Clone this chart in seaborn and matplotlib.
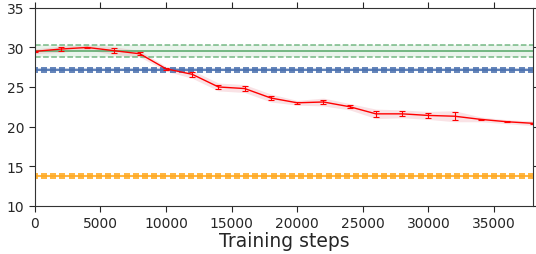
import numpy as np
import matplotlib
matplotlib.use("Agg")
import matplotlib.pyplot as plt
import seaborn as sns

# learned model, evaluated every 2000 steps
steps = [0, 2000, 4000, 6000, 8000, 10000, 12000, 14000, 16000, 18000,
         20000, 22000, 24000, 26000, 28000, 30000, 32000, 34000, 36000, 38000]
score = [29.5, 29.8, 30.0, 29.6, 29.2, 27.3, 26.6, 25.0, 24.8, 23.6,
         23.0, 23.1, 22.5, 21.6, 21.6, 21.4, 21.3, 20.9, 20.6, 20.4]
score_err = [0.1, 0.2, 0.1, 0.3, 0.2, 0.1, 0.3, 0.3, 0.3, 0.3,
             0.1, 0.3, 0.2, 0.4, 0.3, 0.3, 0.5, 0.1, 0.05, 0.1]

# reference levels
green_mean = 29.5
green_low = 28.75
green_high = 30.25
blue_level = 27.2
orange_level = 13.8
baseline_every = 700


def main():
    sns.set_theme(style="ticks")
    plt.rcParams["font.family"] = ["DejaVu Sans"]

    fig, ax = plt.subplots(figsize=(5.36, 2.55), dpi=100)

    base_x = np.arange(0, steps[-1] + 1, baseline_every)

    # green band with dashed bounds
    ax.axhspan(green_low, green_high, color="#55A868", alpha=0.12, lw=0)
    ax.axhline(green_mean, color="#55A868", lw=1.4, alpha=0.8)
    ax.axhline(green_low, color="#55A868", lw=1.1, ls="--", alpha=0.8)
    ax.axhline(green_high, color="#55A868", lw=1.1, ls="--", alpha=0.8)

    # blue and orange baselines with square markers
    ax.axhspan(blue_level - 0.2, blue_level + 0.2, color="#4C72B0", alpha=0.3, lw=0)
    sns.lineplot(x=base_x, y=[blue_level] * len(base_x), ax=ax, color="#4C72B0",
                 lw=1.5, marker="s", markersize=4.5, markeredgewidth=0, alpha=0.85)
    sns.lineplot(x=base_x, y=[orange_level] * len(base_x), ax=ax, color="#FFAA22",
                 lw=1.5, marker="s", markersize=4.5, markeredgewidth=0, alpha=0.85)

    # red curve with band and error bars
    low = np.array(score) - np.array(score_err) - 0.2
    high = np.array(score) + np.array(score_err) + 0.2
    ax.fill_between(steps, low, high, color="#E06070", alpha=0.18, lw=0)
    ax.errorbar(steps, score, yerr=score_err, color="red", lw=1.0,
                capsize=2, elinewidth=0.8, capthick=0.8)

    ax.set_xlim(0, 38000)
    ax.set_ylim(10, 35)
    ax.set_xticks(range(0, 38000, 5000))
    ax.set_yticks(range(10, 36, 5))
    ax.tick_params(top=True, right=True, labeltop=False, labelright=False,
                   direction="out", length=4, width=0.8, labelsize=10,
                   colors="#262626")
    for side in ax.spines.values():
        side.set_color("#333333")
        side.set_linewidth(0.8)
    ax.set_xlabel("Training steps", fontsize=13.5, color="#262626", labelpad=1)

    fig.subplots_adjust(left=0.065, right=0.995, top=0.965, bottom=0.19)
    fig.savefig("out.png", dpi=100)


if __name__ == "__main__":
    main()
